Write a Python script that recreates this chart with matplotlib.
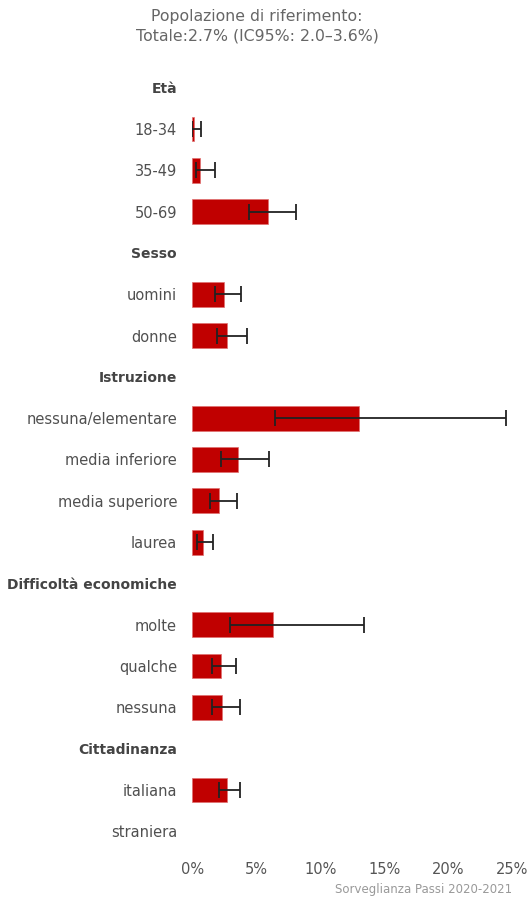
import numpy as np
import matplotlib
matplotlib.use("Agg")
import matplotlib.pyplot as plt
from matplotlib.transforms import ScaledTranslation

# Rows from top to bottom; group headers have no value
labels = ["Età", "18-34", "35-49", "50-69",
          "Sesso", "uomini", "donne",
          "Istruzione", "nessuna/elementare", "media inferiore", "media superiore", "laurea",
          "Difficoltà economiche", "molte", "qualche", "nessuna",
          "Cittadinanza", "italiana", "straniera"]
is_header = [True, False, False, False,
             True, False, False,
             True, False, False, False, False,
             True, False, False, False,
             True, False, False]
nan = np.nan
values = [nan, 0.1, 0.6, 5.9,
          nan, 2.5, 2.7,
          nan, 13.0, 3.6, 2.1, 0.8,
          nan, 6.3, 2.2, 2.3,
          nan, 2.7, nan]
ci_low = [nan, 0.0, 0.25, 4.4,
          nan, 1.8, 1.9,
          nan, 6.5, 2.2, 1.4, 0.35,
          nan, 2.95, 1.5, 1.5,
          nan, 2.1, nan]
ci_high = [nan, 0.7, 1.8, 8.1,
           nan, 3.8, 4.3,
           nan, 24.5, 6.0, 3.5, 1.6,
           nan, 13.4, 3.4, 3.7,
           nan, 3.7, nan]
xticks = [0, 5, 10, 15, 20, 25]
title_lines = ["Popolazione di riferimento:", "Totale:2.7% (IC95%: 2.0–3.6%)"]
source = "Sorveglianza Passi 2020-2021"

plt.rcParams['font.family'] = ['DejaVu Sans']

fig = plt.figure(figsize=(5.3, 9.0), dpi=100)
ax = fig.add_axes([0.363, 0.0533, 0.603, 0.8723])

y = np.arange(len(labels))
vals = np.array(values, dtype=float)
lo = np.array(ci_low, dtype=float)
hi = np.array(ci_high, dtype=float)
mask = ~np.isnan(vals)

ax.barh(y[mask], vals[mask], height=0.6, color="#c00000",
        edgecolor="#e07070", linewidth=0.5, zorder=2)
ax.errorbar(vals[mask], y[mask],
            xerr=[vals[mask] - lo[mask], hi[mask] - vals[mask]],
            fmt="none", ecolor="#222222", elinewidth=1.3, capsize=6,
            capthick=1.3, zorder=3)

ax.set_ylim(len(labels) - 0.5, -0.5)
ax.set_xlim(0, 25)
ax.set_xticks(xticks)
ax.set_xticklabels([f"{t}%" for t in xticks], fontsize=10.5, color="#555555")
ax.set_yticks(y)
ax.set_yticklabels(labels, fontsize=10.5, color="#505050")
for tl, h in zip(ax.get_yticklabels(), is_header):
    if h:
        tl.set_fontweight("bold")
        tl.set_fontsize(10)
        tl.set_color("#444444")
shift = ScaledTranslation(2.5 / 100, 0, fig.dpi_scale_trans)
for tl in ax.get_xticklabels():
    tl.set_transform(tl.get_transform() + shift)
ax.tick_params(axis="both", length=0)
ax.tick_params(axis="y", pad=11)
ax.tick_params(axis="x", pad=7)
for s in ax.spines.values():
    s.set_visible(False)

fig.text(0.485, 0.990, "\n".join(title_lines), ha="center", va="top",
         fontsize=11.3, color="#666666", linespacing=1.35)
fig.text(0.966, 0.004, source, ha="right", va="bottom",
         fontsize=8.5, color="#999999")

fig.savefig("out.png", dpi=100)
